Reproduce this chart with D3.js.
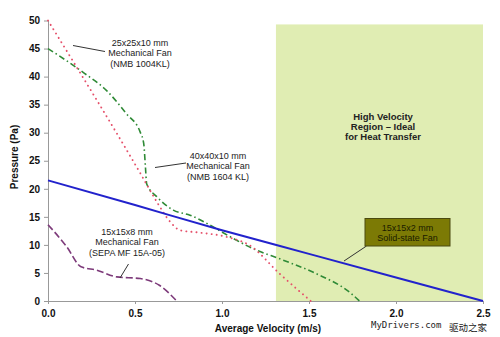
<!DOCTYPE html>
<html>
<head>
<meta charset="utf-8">
<script src="https://cdn.jsdelivr.net/npm/d3@7"></script>
<style>
  body { margin: 0; background: #fff; }
  svg text { font-family: "Liberation Sans", Arial, sans-serif; }
</style>
</head>
<body>
<div id="chart"></div>
<script>
// pressure (Pa) vs average velocity (m/s) for each fan
var xTicks = [0, 0.5, 1.0, 1.5, 2.0, 2.5];
var yTicks = [0, 5, 10, 15, 20, 25, 30, 35, 40, 45, 50];

var fan25V = [0, 0.53, 0.625, 0.70, 0.76, 0.87, 1.03, 1.16, 1.33, 1.51];
var fan25P = [50, 22.8, 17.7, 14.2, 12.6, 12.2, 11.4, 9.9, 4.9, 0];

var fan40V = [0, 0.2, 0.337, 0.45, 0.53, 0.55, 0.56, 0.567, 0.625, 0.72, 0.816, 0.95, 1.05, 1.16, 1.35, 1.54, 1.74, 1.79];
var fan40P = [45, 40.8, 37.5, 33.4, 30.1, 28.1, 23.9, 20.9, 18.6, 16.2, 15.3, 13.2, 11.4, 9.6, 7.3, 4.9, 1.4, 0];

var fan15V = [0, 0.107, 0.19, 0.28, 0.395, 0.53, 0.64, 0.74];
var fan15P = [13.6, 9.7, 6.1, 5.5, 4.3, 4.0, 2.8, 0];

var solidV = [0, 0.5, 1.0, 1.5, 2.0, 2.5];
var solidP = [21.5, 17.1, 12.6, 8.4, 4.2, 0];

// high velocity band
var regionV = [1.31, 2.5];
var regionTop = 49.3;

var width = 500, height = 337;
var margin = {top: 20.5, right: 17, bottom: 36, left: 48};

var svg = d3.select("#chart").append("svg")
    .attr("width", width)
    .attr("height", height);

var x = d3.scaleLinear().domain([0, 2.5]).range([margin.left, width - margin.right]);
var y = d3.scaleLinear().domain([0, 50]).range([height - margin.bottom, margin.top]);

svg.append("rect")
    .attr("x", x(regionV[0]))
    .attr("y", y(regionTop))
    .attr("width", x(regionV[1]) - x(regionV[0]))
    .attr("height", y(0) - y(regionTop))
    .style("fill", "#e0edb3");

svg.append("text")
    .attr("x", 383)
    .attr("y", 120)
    .attr("text-anchor", "middle")
    .style("font-size", "9.5px")
    .style("font-weight", "bold")
    .style("fill", "#222")
    .selectAll("tspan")
    .data(["High Velocity", "Region \u2013 Ideal", "for Heat Transfer"])
    .enter().append("tspan")
    .attr("x", 383)
    .attr("dy", function (d, i) { return i === 0 ? 0 : 10.2; })
    .text(function (d) { return d; });

// axes
var yAxis = svg.append("g")
    .attr("transform", "translate(" + margin.left + ",0)")
    .call(d3.axisLeft(y).tickValues(yTicks).tickSize(4).tickSizeOuter(0).tickPadding(4));

var xAxis = svg.append("g")
    .attr("transform", "translate(0," + y(0) + ")")
    .call(d3.axisBottom(x).tickValues(xTicks).tickSize(3).tickSizeOuter(0).tickPadding(6)
        .tickFormat(d3.format(".1f")));

[xAxis, yAxis].forEach(function (a) {
    a.selectAll("path, line").style("stroke", "#999");
    a.selectAll("text")
        .style("font-size", "10px")
        .style("font-weight", "bold")
        .style("fill", "#111");
});

svg.append("text")
    .attr("transform", "translate(14," + 157 + ") rotate(-90)")
    .attr("text-anchor", "middle")
    .attr("dy", "0.35em")
    .style("font-size", "10px")
    .style("font-weight", "bold")
    .style("fill", "#111")
    .text("Pressure (Pa)");

svg.append("text")
    .attr("x", 268)
    .attr("y", 332)
    .attr("text-anchor", "middle")
    .style("font-size", "10px")
    .style("font-weight", "bold")
    .style("fill", "#111")
    .text("Average Velocity (m/s)");

// curves
var line = d3.line()
    .x(function (d) { return x(d[0]); })
    .y(function (d) { return y(d[1]); })
    .curve(d3.curveMonotoneX);

function pairs(v, p) {
    return v.map(function (d, i) { return [d, p[i]]; });
}

svg.append("path")
    .datum(pairs(fan15V, fan15P))
    .attr("d", line)
    .style("fill", "none")
    .style("stroke", "#7d3a7a")
    .style("stroke-width", 1.6)
    .style("stroke-dasharray", "7,3");

svg.append("path")
    .datum(pairs(fan40V, fan40P))
    .attr("d", line)
    .style("fill", "none")
    .style("stroke", "#2f8a36")
    .style("stroke-width", 1.6)
    .style("stroke-dasharray", "6,3,1.5,3");

svg.append("path")
    .datum(pairs(fan25V, fan25P))
    .attr("d", line)
    .style("fill", "none")
    .style("stroke", "#e5506a")
    .style("stroke-width", 1.9)
    .style("stroke-linecap", "round")
    .style("stroke-dasharray", "0.1,5");

svg.append("path")
    .datum(pairs(solidV, solidP))
    .attr("d", line)
    .style("fill", "none")
    .style("stroke", "#2222cc")
    .style("stroke-width", 2);

// callouts
function leader(x1, y1, x2, y2) {
    svg.append("line")
        .attr("x1", x1).attr("y1", y1)
        .attr("x2", x2).attr("y2", y2)
        .style("stroke", "#333")
        .style("stroke-width", 1);
}

function note(cx, top, lines, fill) {
    svg.append("text")
        .attr("text-anchor", "middle")
        .style("font-size", "9px")
        .style("fill", fill || "#222")
        .selectAll("tspan")
        .data(lines)
        .enter().append("tspan")
        .attr("x", cx)
        .attr("y", function (d, i) { return top + i * 10.3; })
        .text(function (d) { return d; });
}

leader(73, 45.5, 105, 51.5);
note(140, 46, ["25x25x10 mm", "Mechanical Fan", "(NMB 1004KL)"]);

leader(155, 167.5, 186, 163);
note(218, 159, ["40x40x10 mm", "Mechanical Fan", "(NMB 1604 KL)"]);

leader(120, 278, 128.5, 264);
note(127, 235, ["15x15x8 mm", "Mechanical Fan", "(SEPA MF 15A-05)"]);

leader(366.5, 246, 344, 261);
svg.append("rect")
    .attr("x", 365).attr("y", 218.5)
    .attr("width", 85).attr("height", 27.5)
    .style("fill", "#7c7a05")
    .style("stroke", "#4a4a10")
    .style("stroke-width", 1);
note(407.5, 230.5, ["15x15x2 mm", "Solid-state Fan"], "#1a1a00");

// watermark
svg.append("text")
    .attr("x", 371)
    .attr("y", 328)
    .style("font-family", "'DejaVu Sans Mono', monospace")
    .style("font-size", "9px")
    .style("fill", "#222")
    .text("MyDrivers.com");

svg.append("text")
    .attr("x", 449)
    .attr("y", 331)
    .style("font-family", "'Noto Sans CJK SC', sans-serif")
    .style("font-size", "9.5px")
    .style("fill", "#222")
    .text("驱动之家");
</script>
</body>
</html>
